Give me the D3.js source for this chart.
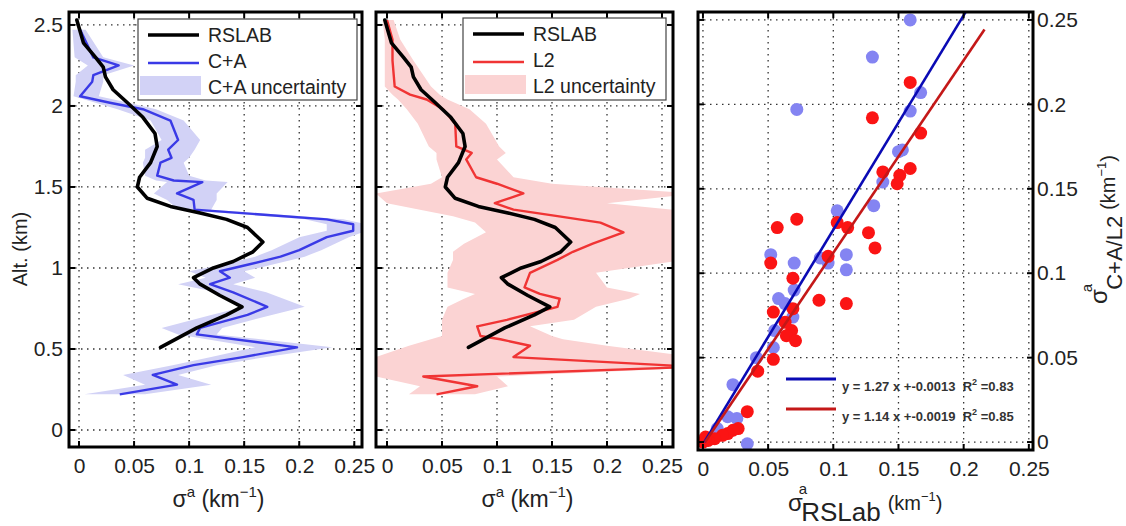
<!DOCTYPE html>
<html>
<head>
<meta charset="utf-8">
<script src="https://cdn.jsdelivr.net/npm/d3@7"></script>
<style>
  body { margin: 0; background: #fff; }
  svg { display: block; font-family: "Liberation Sans", Arial, sans-serif; }
</style>
</head>
<body>
<div id="chart"></div>
<script>
// ---- data ----
var xTicks = [0, 0.05, 0.1, 0.15, 0.2, 0.25];
var altTicks = [0, 0.5, 1, 1.5, 2, 2.5];
var scatterYTicks = [0, 0.05, 0.1, 0.15, 0.2, 0.25];

// RSLAB profile (shared by both profile panels)
var rslabAlt = [2.53, 2.39, 2.30, 2.24, 2.18, 2.10, 2.02, 1.93, 1.83, 1.75, 1.65, 1.56, 1.50, 1.43, 1.38, 1.34, 1.30, 1.25, 1.16, 1.10, 1.04, 1.00, 0.94, 0.90, 0.83, 0.76, 0.71, 0.63, 0.51];
var rslabVal = [-0.002, 0.004, 0.015, 0.022, 0.024, 0.031, 0.044, 0.058, 0.069, 0.071, 0.065, 0.055, 0.053, 0.062, 0.083, 0.110, 0.134, 0.153, 0.167, 0.158, 0.140, 0.122, 0.104, 0.110, 0.128, 0.148, 0.134, 0.107, 0.074];

// C+A profile and its uncertainty band
var caAlt = [2.47, 2.30, 2.25, 2.19, 2.15, 2.06, 2.02, 1.98, 1.91, 1.79, 1.73, 1.68, 1.65, 1.57, 1.54, 1.53, 1.46, 1.42, 1.36, 1.33, 1.30, 1.27, 1.23, 1.19, 1.11, 1.07, 1.02, 0.98, 0.94, 0.90, 0.85, 0.76, 0.71, 0.63, 0.59, 0.51, 0.45, 0.40, 0.34, 0.28, 0.22];
var caVal = [0.001, 0.013, 0.036, 0.013, 0.012, 0.001, 0.028, 0.058, 0.083, 0.090, 0.081, 0.084, 0.074, 0.071, 0.086, 0.112, 0.089, 0.104, 0.105, 0.165, 0.225, 0.249, 0.249, 0.225, 0.200, 0.183, 0.153, 0.128, 0.137, 0.119, 0.140, 0.171, 0.153, 0.110, 0.107, 0.198, 0.149, 0.104, 0.067, 0.089, 0.037];
var caLo = [-0.006, -0.004, 0.008, -0.003, -0.003, -0.005, 0.015, 0.035, 0.065, 0.075, 0.060, 0.060, 0.058, 0.060, 0.070, 0.080, 0.068, 0.080, 0.090, 0.150, 0.205, 0.225, 0.225, 0.200, 0.175, 0.160, 0.130, 0.100, 0.115, 0.090, 0.125, 0.150, 0.120, 0.075, 0.090, 0.160, 0.120, 0.085, 0.040, 0.060, 0.005];
var caHi = [0.006, 0.022, 0.050, 0.022, 0.022, 0.018, 0.045, 0.070, 0.095, 0.110, 0.105, 0.100, 0.095, 0.100, 0.115, 0.135, 0.125, 0.125, 0.120, 0.180, 0.240, 0.262, 0.262, 0.245, 0.220, 0.205, 0.175, 0.150, 0.160, 0.140, 0.170, 0.205, 0.175, 0.130, 0.125, 0.230, 0.170, 0.125, 0.090, 0.120, 0.060];

// L2 profile and its uncertainty band
var l2Alt = [2.53, 2.41, 2.28, 2.12, 2.07, 2.04, 1.98, 1.89, 1.75, 1.71, 1.67, 1.56, 1.52, 1.46, 1.40, 1.36, 1.32, 1.28, 1.22, 1.15, 1.10, 1.05, 0.97, 0.88, 0.84, 0.81, 0.76, 0.68, 0.64, 0.58, 0.56, 0.52, 0.45, 0.39, 0.33, 0.27, 0.22];
var l2Val = [0.000, 0.005, 0.005, 0.007, 0.021, 0.036, 0.051, 0.062, 0.063, 0.077, 0.072, 0.081, 0.100, 0.124, 0.098, 0.115, 0.155, 0.194, 0.215, 0.187, 0.169, 0.155, 0.130, 0.125, 0.139, 0.157, 0.155, 0.109, 0.082, 0.085, 0.103, 0.130, 0.115, 0.280, 0.033, 0.082, 0.045];
var l2Lo = [-0.004, -0.002, -0.002, -0.002, 0.005, 0.010, 0.018, 0.028, 0.038, 0.045, 0.045, 0.050, 0.040, -0.010, 0.000, 0.030, 0.060, 0.080, 0.090, 0.070, 0.060, 0.060, 0.055, 0.055, 0.080, 0.070, 0.055, 0.050, 0.050, 0.050, 0.040, 0.020, -0.010, -0.010, -0.010, 0.030, 0.020];
var l2Hi = [0.006, 0.012, 0.024, 0.040, 0.048, 0.055, 0.075, 0.090, 0.102, 0.108, 0.100, 0.115, 0.150, 0.280, 0.200, 0.260, 0.280, 0.280, 0.280, 0.280, 0.280, 0.270, 0.190, 0.200, 0.230, 0.220, 0.190, 0.170, 0.130, 0.150, 0.160, 0.200, 0.280, 0.300, 0.100, 0.110, 0.080];

// scatter: retrieved vs RSLAB
var caScatX = [0.159, 0.130, 0.072, 0.167, 0.159, 0.150, 0.153, 0.138, 0.131, 0.103, 0.110, 0.110, 0.052, 0.070, 0.090, 0.096, 0.070, 0.058, 0.063, 0.069, 0.055, 0.054, 0.041, 0.023, 0.019, 0.026, 0.011, 0.034, 0.004];
var caScatY = [0.250, 0.228, 0.197, 0.207, 0.196, 0.172, 0.173, 0.154, 0.140, 0.137, 0.111, 0.102, 0.111, 0.106, 0.109, 0.106, 0.090, 0.085, 0.082, 0.074, 0.066, 0.056, 0.050, 0.034, 0.015, 0.014, 0.008, -0.001, 0.002];
var l2ScatX = [0.159, 0.130, 0.167, 0.138, 0.159, 0.151, 0.149, 0.072, 0.057, 0.103, 0.111, 0.127, 0.132, 0.052, 0.096, 0.069, 0.089, 0.110, 0.054, 0.069, 0.063, 0.068, 0.064, 0.071, 0.054, 0.042, 0.034, 0.027, 0.023, 0.019, 0.015, 0.009, 0.004, 0.000, 0.002];
var l2ScatY = [0.213, 0.192, 0.183, 0.160, 0.162, 0.158, 0.153, 0.132, 0.127, 0.130, 0.127, 0.124, 0.115, 0.106, 0.110, 0.097, 0.084, 0.082, 0.077, 0.079, 0.071, 0.066, 0.063, 0.060, 0.049, 0.042, 0.018, 0.008, 0.007, 0.005, 0.004, 0.002, 0.001, 0.000, 0.003];

// linear fits
var fitNames = ['C+A', 'L2'];
var fitSlope = [1.27, 1.14];
var fitIntercept = [-0.0013, -0.0019];
var fitR2 = [0.83, 0.85];
var fitXEnd = [0.2016, 0.216];

var W = 1126, H = 526;
var FONT = '"Liberation Sans", Arial, sans-serif';

var svg = d3.select('#chart').append('svg').attr('width', W).attr('height', H);
svg.append('rect').attr('width', W).attr('height', H).attr('fill', '#fff');
var defs = svg.append('defs');

function zip(a, b) { return a.map(function (v, i) { return [v, b[i]]; }); }

function frame(g, x, y, xt, yt, id) {
  var x0 = x.range()[0], x1 = x.range()[1], y0 = y.range()[0], y1 = y.range()[1];
  defs.append('clipPath').attr('id', id).append('rect')
    .attr('x', x0).attr('y', y1).attr('width', x1 - x0).attr('height', y0 - y1);
  var grid = g.append('g').attr('stroke', '#333').attr('stroke-width', 1.3).attr('stroke-dasharray', '1.5,4.5');
  xt.forEach(function (t) {
    grid.append('line').attr('x1', x(t)).attr('x2', x(t)).attr('y1', y1).attr('y2', y0);
  });
  yt.forEach(function (t) {
    grid.append('line').attr('x1', x0).attr('x2', x1).attr('y1', y(t)).attr('y2', y(t));
  });
}

function boxAndTicks(g, x, y, xt, yt) {
  var x0 = x.range()[0], x1 = x.range()[1], y0 = y.range()[0], y1 = y.range()[1];
  var tk = g.append('g').attr('stroke', '#000').attr('stroke-width', 2);
  xt.forEach(function (t) {
    tk.append('line').attr('x1', x(t)).attr('x2', x(t)).attr('y1', y0).attr('y2', y0 - 6);
    tk.append('line').attr('x1', x(t)).attr('x2', x(t)).attr('y1', y1).attr('y2', y1 + 6);
  });
  yt.forEach(function (t) {
    tk.append('line').attr('x1', x0).attr('x2', x0 + 6).attr('y1', y(t)).attr('y2', y(t));
    tk.append('line').attr('x1', x1).attr('x2', x1 - 6).attr('y1', y(t)).attr('y2', y(t));
  });
  g.append('rect').attr('x', x0).attr('y', y1).attr('width', x1 - x0).attr('height', y0 - y1)
    .attr('fill', 'none').attr('stroke', '#000').attr('stroke-width', 3);
}

function xAxisLabels(g, x, y) {
  g.append('g')
    .attr('transform', 'translate(0,' + y.range()[0] + ')')
    .call(d3.axisBottom(x).tickValues(xTicks).tickSize(0).tickPadding(11).tickFormat(function (d) { return String(d); }))
    .call(function (a) { a.select('.domain').remove(); })
    .selectAll('text').attr('font-size', 21).attr('font-family', FONT).attr('fill', '#222');
}

function sigmaLabel(g, cx, baseline) {
  var t = g.append('text').attr('x', cx).attr('y', baseline).attr('text-anchor', 'middle')
    .attr('font-size', 23).attr('fill', '#222');
  t.append('tspan').text('σ');
  t.append('tspan').attr('font-size', 15).attr('dy', -10).text('a');
  t.append('tspan').attr('dy', 10).text(' (km');
  t.append('tspan').attr('font-size', 15).attr('dy', -10).text('−1');
  t.append('tspan').attr('dy', 10).text(')');
}

function profilePanel(xRange, id, other, lineColor, bandColor, legendNames, legendBox) {
  var x = d3.scaleLinear().domain([xRange[2], xRange[3]]).range([xRange[0], xRange[1]]);
  var y = d3.scaleLinear().domain([-0.105, 2.58]).range([447, 12]);
  var g = svg.append('g');
  frame(g, x, y, xTicks, altTicks, id);

  var data = g.append('g').attr('clip-path', 'url(#' + id + ')');
  var band = other.alt.map(function (a, i) { return { a: a, lo: other.lo[i], hi: other.hi[i] }; });
  data.append('path').datum(band)
    .attr('fill', bandColor).attr('stroke', 'none')
    .attr('d', d3.area().y(function (d) { return y(d.a); })
      .x0(function (d) { return x(d.lo); }).x1(function (d) { return x(d.hi); }));
  var line = d3.line().x(function (d) { return x(d[0]); }).y(function (d) { return y(d[1]); });
  data.append('path').datum(zip(other.val, other.alt))
    .attr('fill', 'none').attr('stroke', lineColor).attr('stroke-width', 2.4)
    .attr('stroke-linejoin', 'round').attr('d', line);
  data.append('path').datum(zip(rslabVal, rslabAlt))
    .attr('fill', 'none').attr('stroke', '#000').attr('stroke-width', 3.6)
    .attr('stroke-linejoin', 'round').attr('stroke-linecap', 'round').attr('d', line);

  boxAndTicks(g, x, y, xTicks, altTicks);
  xAxisLabels(g, x, y);

  // legend
  var lb = legendBox;
  var lg = g.append('g');
  lg.append('rect').attr('x', lb[0]).attr('y', lb[1]).attr('width', lb[2]).attr('height', lb[3])
    .attr('fill', '#fff').attr('stroke', '#444').attr('stroke-width', 1.2);
  var sx = lb[0] + 10, ex = lb[0] + 61, tx = lb[0] + 70;
  lg.append('line').attr('x1', sx).attr('x2', ex).attr('y1', lb[1] + 16).attr('y2', lb[1] + 16)
    .attr('stroke', '#000').attr('stroke-width', 3.6);
  lg.append('line').attr('x1', sx).attr('x2', ex).attr('y1', lb[1] + 44).attr('y2', lb[1] + 44)
    .attr('stroke', lineColor).attr('stroke-width', 2.4);
  lg.append('rect').attr('x', sx - 8).attr('y', lb[1] + 57).attr('width', ex - sx + 10).attr('height', 19)
    .attr('fill', bandColor);
  legendNames.forEach(function (n, i) {
    lg.append('text').attr('x', tx).attr('y', lb[1] + 23 + i * 26).attr('font-size', 19.5)
      .attr('fill', '#222').text(n);
  });

  sigmaLabel(g, (xRange[0] + xRange[1]) / 2 + 3, 507);
  return { x: x, y: y, g: g };
}

// left panel: C+A
var left = profilePanel([69, 362, -0.0091, 0.257], 'clipL',
  { alt: caAlt, val: caVal, lo: caLo, hi: caHi }, '#3a3ae6', '#d2d2f6',
  ['RSLAB', 'C+A', 'C+A uncertainty'], [138, 19, 219, 81]);

left.g.append('g')
  .attr('transform', 'translate(69,0)')
  .call(d3.axisLeft(left.y).tickValues(altTicks).tickSize(0).tickPadding(6).tickFormat(function (d) { return String(d); }))
  .call(function (a) { a.select('.domain').remove(); })
  .selectAll('text').attr('font-size', 21).attr('font-family', FONT).attr('fill', '#222');

svg.append('text').attr('transform', 'translate(27,249) rotate(-90)')
  .attr('text-anchor', 'middle').attr('font-size', 20).attr('fill', '#222').text('Alt. (km)');

// middle panel: L2
profilePanel([376, 673, -0.010, 0.260], 'clipM',
  { alt: l2Alt, val: l2Val, lo: l2Lo, hi: l2Hi }, '#f03434', '#fbd3d3',
  ['RSLAB', 'L2', 'L2 uncertainty'], [463, 18, 203, 82]);

// right panel: scatter
var sx = d3.scaleLinear().domain([-0.0038, 0.2532]).range([698, 1033]);
var sy = d3.scaleLinear().domain([-0.0047, 0.2547]).range([450, 12]);
var sg = svg.append('g');
frame(sg, sx, sy, xTicks, scatterYTicks, 'clipS');
var sdata = sg.append('g').attr('clip-path', 'url(#clipS)');
sdata.selectAll('circle.ca').data(zip(caScatX, caScatY)).enter().append('circle')
  .attr('class', 'ca').attr('cx', function (d) { return sx(d[0]); }).attr('cy', function (d) { return sy(d[1]); })
  .attr('r', 6.5).attr('fill', '#8484f2');
sdata.selectAll('circle.l2').data(zip(l2ScatX, l2ScatY)).enter().append('circle')
  .attr('class', 'l2').attr('cx', function (d) { return sx(d[0]); }).attr('cy', function (d) { return sy(d[1]); })
  .attr('r', 6.5).attr('fill', '#fb1414');

var fitColors = ['#0a0ab4', '#c41818'];
fitNames.forEach(function (n, i) {
  var xa = -fitIntercept[i] / fitSlope[i], xb = fitXEnd[i];
  sdata.append('line')
    .attr('x1', sx(xa)).attr('y1', sy(fitSlope[i] * xa + fitIntercept[i]))
    .attr('x2', sx(xb)).attr('y2', sy(fitSlope[i] * xb + fitIntercept[i]))
    .attr('stroke', fitColors[i]).attr('stroke-width', 2.6);
});

boxAndTicks(sg, sx, sy, xTicks, scatterYTicks);
xAxisLabels(sg, sx, sy);
sg.append('g')
  .attr('transform', 'translate(1033,0)')
  .call(d3.axisRight(sy).tickValues(scatterYTicks).tickSize(0).tickPadding(4).tickFormat(function (d) { return String(d); }))
  .call(function (a) { a.select('.domain').remove(); })
  .selectAll('text').attr('font-size', 21).attr('font-family', FONT).attr('fill', '#222');

// fit legend
fitNames.forEach(function (n, i) {
  var ly = 379 + i * 30;
  sg.append('line').attr('x1', 786).attr('x2', 836).attr('y1', ly).attr('y2', ly)
    .attr('stroke', fitColors[i]).attr('stroke-width', 3);
  var t = sg.append('text').attr('x', 842).attr('y', ly + 12).attr('font-size', 13)
    .attr('font-weight', 'bold').attr('fill', '#333').style('white-space', 'pre');
  t.append('tspan').text('y = ' + fitSlope[i].toFixed(2) + ' x +' + fitIntercept[i].toFixed(4) + '  R');
  t.append('tspan').attr('font-size', 9).attr('dy', -6).text('2');
  t.append('tspan').attr('dy', 6).text(' =' + fitR2[i].toFixed(2));
});

// scatter axis labels (sub/superscripts stacked as in the original)
var xl = svg.append('text').attr('x', 788).attr('y', 511).attr('fill', '#222');
xl.append('tspan').attr('font-size', 24).text('σ');
xl.append('tspan').attr('font-size', 15).attr('dx', -4).attr('dy', -17).text('a');
xl.append('tspan').attr('font-size', 26).attr('dx', -6).attr('dy', 27).text('RSLab');
xl.append('tspan').attr('font-size', 20).attr('dx', 7).attr('dy', -11).text('(km');
xl.append('tspan').attr('font-size', 13).attr('dy', -9).text('−1');
xl.append('tspan').attr('font-size', 20).attr('dy', 9).text(')');

var yl = svg.append('text').attr('transform', 'translate(1107,304) rotate(-90)').attr('fill', '#222');
yl.append('tspan').attr('font-size', 24).text('σ');
yl.append('tspan').attr('font-size', 15).attr('dx', -3).attr('dy', -15).text('a');
yl.append('tspan').attr('font-size', 22).attr('dx', -6).attr('dy', 30).text('C+A/L2');
yl.append('tspan').attr('font-size', 20).attr('dx', 6).attr('dy', -7).text('(km');
yl.append('tspan').attr('font-size', 13).attr('dy', -9).text('−1');
yl.append('tspan').attr('font-size', 20).attr('dy', 9).text(')');
</script>
</body>
</html>
